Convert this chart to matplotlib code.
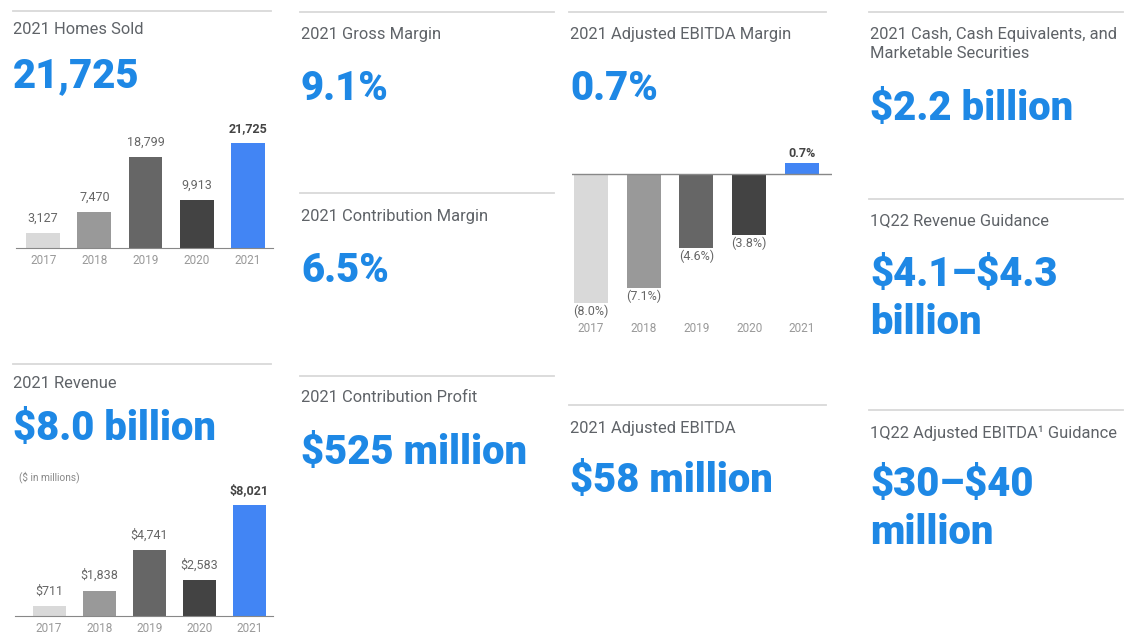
import matplotlib
matplotlib.use("Agg")
import matplotlib.pyplot as plt

plt.rcParams['font.family'] = ['Roboto', 'DejaVu Sans']
plt.rcParams['text.parse_math'] = False

# --- data ---
years = ['2017', '2018', '2019', '2020', '2021']
homes_sold = [3127, 7470, 18799, 9913, 21725]
revenue = [711, 1838, 4741, 2583, 8021]
ebitda_margin = [-8.0, -7.1, -4.6, -3.8, 0.7]

homes_labels = ['3,127', '7,470', '18,799', '9,913', '21,725']
revenue_labels = ['$711', '$1,838', '$4,741', '$2,583', '$8,021']
ebitda_labels = ['(8.0%)', '(7.1%)', '(4.6%)', '(3.8%)', '0.7%']

bar_colors = ['#d9d9d9', '#999999', '#666666', '#434343', '#4285f4']
BLUE = '#1e88e5'
GREY = '#5f6368'
LINE = '#d9d9d9'

W, H = 1135, 640
fig = plt.figure(figsize=(W / 100, H / 100), dpi=100)


def fx(x):
    return x / W


def fy(y):
    return 1 - y / H


def sep(x0, x1, y):
    fig.add_artist(plt.Line2D([fx(x0), fx(x1)], [fy(y), fy(y)], color=LINE, lw=1.3))


def title(x, y, s):
    fig.text(fx(x), fy(y + 1), s, fontsize=11.9, color=GREY, va='center', ha='left')


def big(x, y, s):
    fig.text(fx(x), fy(y + 2), s, fontsize=28.8, color=BLUE, fontweight=900, va='center', ha='left')


def axes_px(x0, x1, y0, y1):
    return fig.add_axes([fx(x0), fy(y1), fx(x1) - fx(x0), (y1 - y0) / H])


def style(ax):
    for s in ['top', 'right', 'left']:
        ax.spines[s].set_visible(False)
    ax.spines['bottom'].set_color('#888888')
    ax.set_yticks([])
    ax.tick_params(axis='x', length=0, labelsize=8.5, labelcolor='#999999', pad=4)


# ---------- column 1 ----------
sep(13, 271, 11)
title(13, 29, '2021 Homes Sold')
big(13, 74, '21,725')

ax1 = axes_px(16, 273, 120, 248)
ax1.bar(range(5), homes_sold, width=0.66, color=bar_colors)
ax1.set_xlim(-0.53, 4.49)
ax1.set_ylim(0, 21725 * 128 / 105)
ax1.set_xticks(range(5), years)
style(ax1)
for i, (v, lab) in enumerate(zip(homes_sold, homes_labels)):
    last = i == 4
    ax1.annotate(lab, (i, v), xytext=(0, 6), textcoords='offset points', ha='center', va='bottom',
                 fontsize=9, color='#444444' if last else '#666666',
                 fontweight='bold' if last else 'normal')

sep(13, 271, 364)
title(13, 382, '2021 Revenue')
big(13, 427, '$8.0 billion')
fig.text(fx(19), fy(477), '($ in millions)', fontsize=7.3, color='#888888', va='center', ha='left')

ax2 = axes_px(15, 273, 490, 616)
ax2.bar(range(5), revenue, width=0.66, color=bar_colors)
ax2.set_xlim(-0.68, 4.47)
ax2.set_ylim(0, 8021 * 126 / 111)
ax2.set_xticks(range(5), years)
style(ax2)
for i, (v, lab) in enumerate(zip(revenue, revenue_labels)):
    last = i == 4
    ax2.annotate(lab, (i, v), xytext=(0, 6), textcoords='offset points', ha='center', va='bottom',
                 fontsize=9, color='#444444' if last else '#666666',
                 fontweight='bold' if last else 'normal')

# ---------- column 2 ----------
sep(300, 554, 12)
title(301, 33, '2021 Gross Margin')
big(301, 87, '9.1%')
sep(300, 554, 193)
title(301, 215, '2021 Contribution Margin')
big(301, 268, '6.5%')
sep(300, 554, 376)
title(301, 397, '2021 Contribution Profit')
big(301, 450, '$525 million')

# ---------- column 3 ----------
sep(569, 826, 12)
title(570, 33, '2021 Adjusted EBITDA Margin')
big(570, 87, '0.7%')

ax3 = axes_px(572, 832, 150, 318)
ax3.bar(range(5), ebitda_margin, width=0.645, color=bar_colors)
ax3.set_xlim(-0.36, 4.57)
ax3.set_ylim(-144 / 16.1, 24 / 16.1)
ax3.axhline(0, color='#888888', lw=1)
for s in ['top', 'right', 'left', 'bottom']:
    ax3.spines[s].set_visible(False)
ax3.set_yticks([])
ax3.set_xticks(range(5), years)
ax3.tick_params(axis='x', length=0, labelsize=8.5, labelcolor='#999999', pad=3)
for i, (v, lab) in enumerate(zip(ebitda_margin, ebitda_labels)):
    if v < 0:
        ax3.annotate(lab, (i, v), xytext=(0, -1), textcoords='offset points', ha='center', va='top',
                     fontsize=9, color='#666666')
    else:
        ax3.annotate(lab, (i, v), xytext=(0, 2), textcoords='offset points', ha='center', va='bottom',
                     fontsize=9, color='#444444', fontweight='bold')

sep(569, 826, 405)
title(570, 427, '2021 Adjusted EBITDA')
big(570, 479, '$58 million')

# ---------- column 4 ----------
sep(869, 1123, 12)
title(870, 33, '2021 Cash, Cash Equivalents, and')
title(870, 53, 'Marketable Securities')
big(870, 106, '$2.2 billion')
sep(869, 1123, 199)
title(870, 220, '1Q22 Revenue Guidance')
big(870, 272, '$4.1\u2013$4.3')
big(870, 320, 'billion')
sep(869, 1123, 410)
title(870, 432, '1Q22 Adjusted EBITDA\u00b9 Guidance')
big(870, 483, '$30\u2013$40')
big(870, 530, 'million')

fig.savefig('out.png', dpi=100, facecolor='white')
